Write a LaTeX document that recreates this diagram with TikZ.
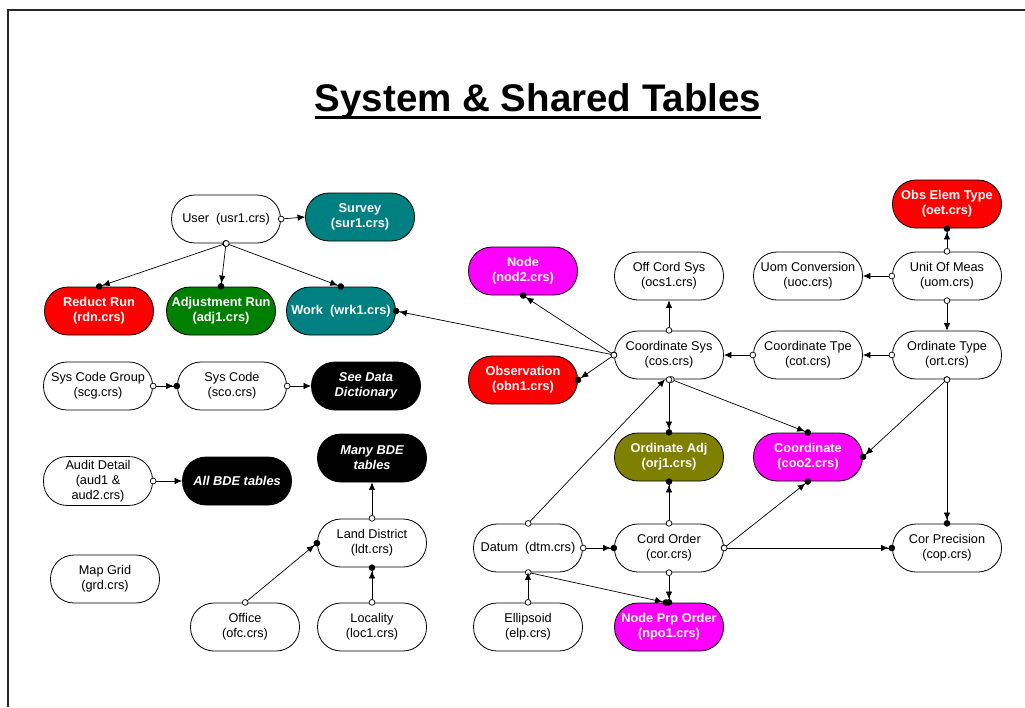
\documentclass[tikz,border=0pt]{standalone}
\usepackage{fontspec}
\setmainfont{Liberation Sans}
\usepackage{tikz}
\usetikzlibrary{arrows.meta, positioning}

\definecolor{tealbox}{RGB}{0,128,128}
\definecolor{redbox}{RGB}{255,0,0}
\definecolor{greenbox}{RGB}{0,128,0}
\definecolor{magentabox}{RGB}{255,0,255}
\definecolor{olivebox}{RGB}{128,128,0}

\begin{document}
\begin{tikzpicture}[x=1pt, y=-1pt,
    every node/.style={font=\fontsize{12.7}{15.2}\selectfont},
    tbl/.style={draw, line width=0.8pt, rounded corners=23.5pt, minimum width=109pt,
      minimum height=48pt, inner xsep=1pt, align=center},
    hot/.style={tbl, fill=#1, text=white, font=\fontsize{12.8}{15.2}\selectfont\bfseries},
    ext/.style={hot=black, font=\fontsize{12.8}{15.2}\selectfont\bfseries\itshape},
    rel/.style={line width=0.7pt, shorten <=-3pt,
      {Circle[fill=white,length=6.5pt]}-{Latex[length=7.5pt,width=6.5pt]}},
    reldot/.style={rel, shorten >=-3pt,
      {Circle[fill=white,length=6.5pt]}-{Latex[length=7.5pt,width=6.5pt]Circle[length=6.5pt]}}]
  \useasboundingbox (0,0) rectangle (1025,707);

  % Frame
  \draw[line width=1.3pt, black!85] (1025,10) -- (8,10) -- (8,707);

  % Title
  \node[inner sep=0, anchor=base, font=\fontsize{38.5}{40}\selectfont\bfseries] (title) at (538,111)
    {System \& Shared Tables};
  \draw[line width=3pt] ([yshift=-6.5pt]title.base west) -- ([yshift=-6.5pt]title.base east);

  % Users and runs
  \node[tbl] (usr) at (226,219) {User~ (usr1.crs)};
  \node[hot=tealbox] (sur) at (360,217) {Survey\\(sur1.crs)};
  \node[hot=redbox] (rdn) at (99,311) {Reduct Run\\(rdn.crs)};
  \node[hot=greenbox] (adj) at (221,311) {Adjustment Run\\(adj1.crs)};
  \node[hot=tealbox] (wrk) at (341,311) {Work~ (wrk1.crs)};

  % System codes
  \node[tbl] (scg) at (98,386) {Sys Code Group\\(scg.crs)};
  \node[tbl] (sco) at (232,386) {Sys Code\\(sco.crs)};
  \node[ext] (sdd) at (366,386) {See Data\\Dictionary};

  % Audit
  \node[tbl] (aud) at (98,481) {Audit Detail\\(aud1 \&\\aud2.crs)};
  \node[ext] (abt) at (237,481) {All BDE tables};
  \node[ext] (mbt) at (372,458) {Many BDE\\tables};

  % Districts
  \node[tbl] (ldt) at (372,543) {Land District\\(ldt.crs)};
  \node[tbl] (grd) at (105,579) {Map Grid\\(grd.crs)};
  \node[tbl] (ofc) at (245,627) {Office\\(ofc.crs)};
  \node[tbl] (loc) at (372,627) {Locality\\(loc1.crs)};

  % Coordinate systems
  \node[hot=magentabox] (nod) at (523,271) {Node\\(nod2.crs)};
  \node[hot=redbox] (obn) at (523,380) {Observation\\(obn1.crs)};
  \node[tbl] (ocs) at (669,276) {Off Cord Sys\\(ocs1.crs)};
  \node[tbl] (cos) at (669,355) {Coordinate Sys\\(cos.crs)};
  \node[tbl] (uoc) at (808,276) {Uom Conversion\\(uoc.crs)};
  \node[tbl] (uom) at (947,276) {Unit Of Meas\\(uom.crs)};
  \node[hot=redbox] (oet) at (947,204) {Obs Elem Type\\(oet.crs)};
  \node[tbl] (cot) at (808,355) {Coordinate Tpe\\(cot.crs)};
  \node[tbl] (ort) at (947,355) {Ordinate Type\\(ort.crs)};
  \node[hot=olivebox] (orj) at (669,457) {Ordinate Adj\\(orj1.crs)};
  \node[hot=magentabox] (coo) at (808,457) {Coordinate\\(coo2.crs)};

  % Datum and orders
  \node[tbl] (dtm) at (528,548) {Datum~ (dtm.crs)};
  \node[tbl] (cor) at (669,548) {Cord Order\\(cor.crs)};
  \node[tbl] (cop) at (947,548) {Cor Precision\\(cop.crs)};
  \node[tbl] (elp) at (528,627) {Ellipsoid\\(elp.crs)};
  \node[hot=magentabox] (npo) at (669,627) {Node Prp Order\\(npo1.crs)};

  % Links, left part
  \draw[rel] (usr.east) -- (sur.west);
  \draw[reldot] (usr.south) -- (rdn.north);
  \draw[reldot] (usr.south) -- (adj.north);
  \draw[reldot] (usr.south) -- (wrk.north);
  \draw[reldot] (scg.east) -- (sco.west);
  \draw[rel] (sco.east) -- (sdd.west);
  \draw[rel] (aud.east) -- (abt.west);
  \draw[rel] (ldt.north) -- (mbt.south);
  \draw[reldot] (ofc.north) -- (ldt.west);
  \draw[reldot] (loc.north) -- (ldt.south);

  % Links, right part
  \draw[reldot] (cos.west) -- (wrk.east);
  \draw[reldot] (cos.west) -- (nod.south);
  \draw[reldot] (cos.west) -- (obn.east);
  \draw[rel] (cos.north) -- (ocs.south);
  \draw[rel] (cot.west) -- (cos.east);
  \draw[rel] (uom.west) -- (uoc.east);
  \draw[reldot] (uom.north) -- (oet.south);
  \draw[rel] (uom.south) -- (ort.north);
  \draw[rel] (ort.west) -- (cot.east);
  \draw[reldot] (ort.south) -- (coo.east);
  \draw[reldot] (ort.south) -- (cop.north);
  \draw[reldot] ([xshift=2pt]cos.south) -- (coo.north);
  \draw[reldot] (cos.south) -- (orj.north);
  \draw[rel] (dtm.north) -- ([xshift=-4pt]cos.south);
  \draw[reldot] (cor.north) -- (orj.south);
  \draw[reldot] (dtm.east) -- (cor.west);
  \draw[reldot] (cor.east) -- (coo.south);
  \draw[reldot] (cor.east) -- (cop.west);
  \draw[reldot] (cor.south) -- (npo.north);
  \draw[reldot] (dtm.south) -- ([xshift=-3pt]npo.north);
  \draw[rel] (elp.north) -- (dtm.south);
\end{tikzpicture}
\end{document}
